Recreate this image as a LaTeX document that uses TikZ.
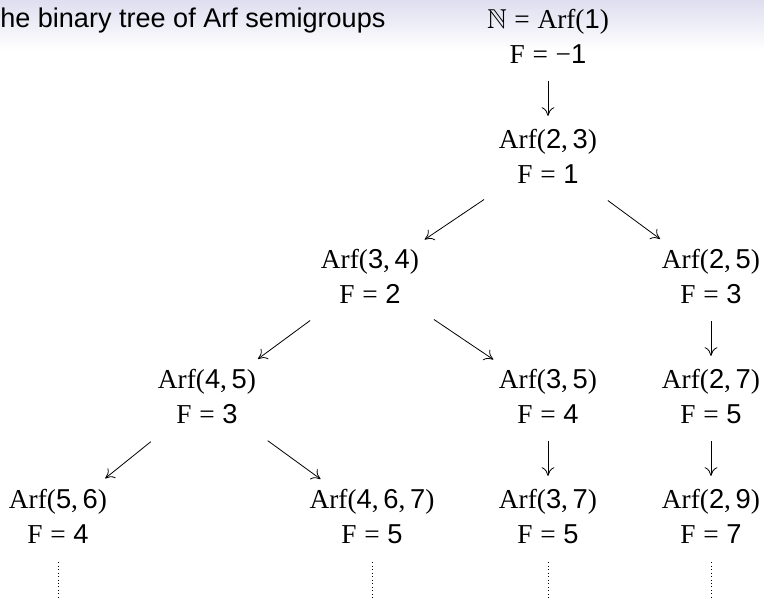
\documentclass[tikz,border=0pt]{standalone}
\usepackage{fontspec}
\setmainfont{Liberation Serif}
\setsansfont{Liberation Sans}
\usepackage{amssymb}
\usetikzlibrary{arrows.meta}
\definecolor{titletop}{RGB}{222,222,240}
\newcommand\dg[1]{{\sffamily #1}}
\newcommand\eqs{\hspace{.28em}=\hspace{.28em}}
\newcommand\cma{,\hspace{.17em}}
\begin{document}
\begin{tikzpicture}[x=0.75pt,y=0.75pt,
  arf/.style={inner sep=0pt, outer sep=0pt, align=center, anchor=base,
    font=\fontsize{20.5}{26.25}\selectfont},
  arr/.style={-{Computer Modern Rightarrow[length=6.5pt,width=9.5pt]}, line width=0.6pt},
  vert/.style={arr, shorten <=13pt, shorten >=10pt},
  diag/.style={arr, shorten <=21.5pt, shorten >=13pt},
  dots/.style={dotted, line width=0.6pt, shorten <=14pt},
  titletext/.style={inner sep=0pt, anchor=base west, font=\fontsize{20.3}{22}\selectfont\sffamily}
]
\useasboundingbox (0,-597) rectangle (764,0);
\shade[top color=titletop, bottom color=white] (0,0) rectangle (764,-50);

\node[titletext] (title) at (0,-27) {he binary tree of Arf semigroups};

\node[arf] (n1) at (548,-63.5) {$\mathbb{N}$\eqs Arf(\dg{1})\\F\eqs −\dg{1}};
\node[arf] (n2) at (548,-183.5) {Arf(\dg{2}\cma\dg{3})\\F\eqs\dg{1}};
\node[arf] (n3) at (370,-303.5) {Arf(\dg{3}\cma\dg{4})\\F\eqs\dg{2}};
\node[arf] (n4) at (711,-303.5) {Arf(\dg{2}\cma\dg{5})\\F\eqs\dg{3}};
\node[arf] (n5) at (207,-423.5) {Arf(\dg{4}\cma\dg{5})\\F\eqs\dg{3}};
\node[arf] (n6) at (548,-423.5) {Arf(\dg{3}\cma\dg{5})\\F\eqs\dg{4}};
\node[arf] (n7) at (711,-423.5) {Arf(\dg{2}\cma\dg{7})\\F\eqs\dg{5}};
\node[arf] (n8) at (58,-543.5) {Arf(\dg{5}\cma\dg{6})\\F\eqs\dg{4}};
\node[arf] (n9) at (372,-543.5) {Arf(\dg{4}\cma\dg{6}\cma\dg{7})\\F\eqs\dg{5}};
\node[arf] (n10) at (548,-543.5) {Arf(\dg{3}\cma\dg{7})\\F\eqs\dg{5}};
\node[arf] (n11) at (711,-543.5) {Arf(\dg{2}\cma\dg{9})\\F\eqs\dg{7}};

\coordinate (e8) at (58,-605);
\coordinate (e9) at (372,-605);
\coordinate (e10) at (548,-605);
\coordinate (e11) at (711,-605);

\draw[vert] (n1) -- (n2);
\draw[diag] (n2) -- (n3);
\draw[diag] (n2) -- (n4);
\draw[diag] (n3) -- (n5);
\draw[diag] (n3) -- (n6);
\draw[vert] (n4) -- (n7);
\draw[diag] (n5) -- (n8);
\draw[diag] (n5) -- (n9);
\draw[vert] (n6) -- (n10);
\draw[vert] (n7) -- (n11);

\draw[dots] (n8) -- (e8);
\draw[dots] (n9) -- (e9);
\draw[dots] (n10) -- (e10);
\draw[dots] (n11) -- (e11);
\end{tikzpicture}
\end{document}
